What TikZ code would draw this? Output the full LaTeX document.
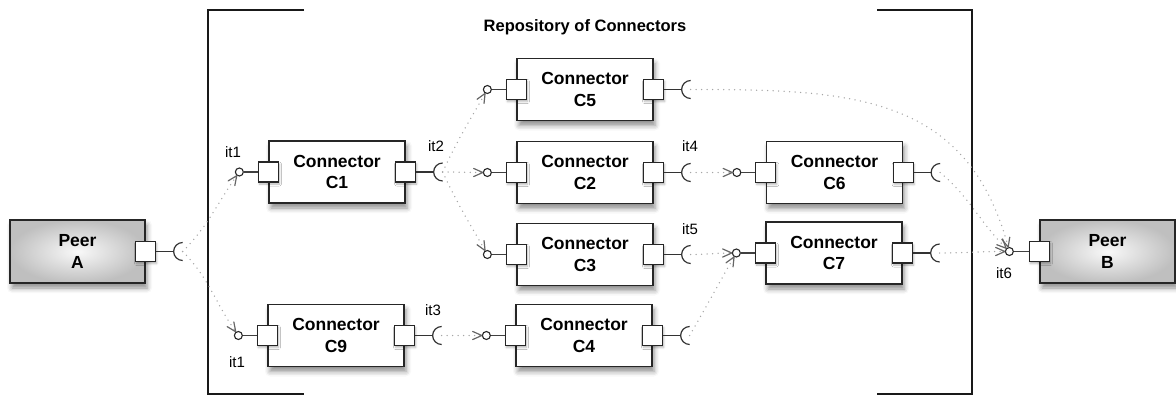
\documentclass[tikz,border=0pt]{standalone}
\usepackage{fontspec}
\setmainfont{Liberation Sans}
\usetikzlibrary{arrows.meta,shadows.blur}
\tikzset{
  cbox/.style={draw=black!85, line width=1.3pt, fill=white, minimum width=136pt, minimum height=62pt,
     align=center, inner sep=0pt, font=\fontsize{17.5}{21.5}\selectfont\bfseries,
     blur shadow={shadow xshift=2pt, shadow yshift=-5pt, shadow blur radius=5pt, shadow opacity=45}},
  peer/.style={cbox, inner color=gray!5, outer color=gray!50, minimum width=135pt, minimum height=63pt},
  port/.style={draw=black!85, line width=1.2pt, fill=white, minimum size=20pt, inner sep=0pt,
     blur shadow={shadow xshift=1pt, shadow yshift=-2pt, shadow blur radius=2pt, shadow opacity=30}},
  lolli/.style={circle, draw=black!85, line width=1.1pt, fill=white, minimum size=8pt, inner sep=0pt},
  wire/.style={draw=black!75, line width=1.2pt},
  sock/.style={draw=black!80, line width=1.2pt},
  dotline/.style={draw=gray!70, line width=1.5pt, dash pattern=on 0pt off 5.5pt, line cap=round},
  tip/.style={draw=black!60, line width=1.2pt, line cap=round, line join=round},
  lbl/.style={font=\fontsize{15}{17}\selectfont, inner sep=0pt},
  bracket/.style={draw=black!90, line width=2pt},
}
% dotted link ending with an open barb drawn solid: #1 path options, #2 start, #3 end node, #4 arrival direction (degrees)
\newcommand\link[4]{%
  \pgfmathtruncatemacro\bk{mod(#4+540,360)}%
  \pgfmathsetmacro\armA{\bk+24}%
  \pgfmathsetmacro\armB{\bk-24}%
  \draw[dotline] (#2) to[#1] (#3);
  \draw[tip] ([shift={(\armA:10pt)}]#3.\bk) -- (#3.\bk) -- ([shift={(\armB:10pt)}]#3.\bk);}
\newcommand\sockat[2]{% port node, socket coordinate
  \draw[sock] (#1.east) -- ([xshift=-9pt]#2);
  \draw[sock] ([yshift=9pt]#2) arc[start angle=90, end angle=270, radius=9pt];}
\newcommand\connbox[4]{% name, x, y, label
  \node[cbox] (#1) at (#2,#3) {Connector\\#4};
  \node[port] (#1l) at (#1.west) {};
  \node[port] (#1r) at (#1.east) {};
  \node[lolli] (#1in) at ([xshift=-29pt]#1.west) {};
  \coordinate (#1out) at ([xshift=37pt]#1.east);
  \draw[wire] (#1in) -- (#1l);
  \sockat{#1r}{#1out}}
\begin{document}
\begin{tikzpicture}[x=1pt,y=1pt]
\useasboundingbox (0,0) rectangle (1176,-396);
% brackets
\draw[bracket] (304,-10) -- (208,-10) -- (208,-394) -- (304,-394);
\draw[bracket] (877,-10) -- (972,-10) -- (972,-394) -- (877,-394);
\node[font=\fontsize{16.5}{18}\selectfont\bfseries] (title) at (585,-27) {Repository of Connectors};
% peers
\node[peer] (A) at (77.5,-251.5) {Peer\\A};
\node[port] (Ar) at (A.east) {};
\coordinate (Aout) at ([xshift=37pt]A.east);
\sockat{Ar}{Aout}
\node[peer] (B) at (1107.5,-251.5) {Peer\\B};
\node[port] (Bl) at (B.west) {};
\node[lolli] (Bin) at ([xshift=-30pt]B.west) {};
\draw[wire] (Bin) -- (Bl);
% connectors
\connbox{C1}{337}{-172}{C1}
\connbox{C9}{336}{-335.5}{C9}
\connbox{C5}{585}{-89.5}{C5}
\connbox{C2}{585}{-172.5}{C2}
\connbox{C3}{585}{-254.5}{C3}
\connbox{C4}{584}{-335.5}{C4}
\connbox{C6}{834.5}{-172.5}{C6}
\connbox{C7}{834}{-253}{C7}
% labels
\node[lbl] (l1) at (233,-152) {it1};
\node[lbl] (l1b) at (237,-362) {it1};
\node[lbl] (l2) at (436,-146) {it2};
\node[lbl] (l3) at (433,-310) {it3};
\node[lbl] (l4) at (690,-146) {it4};
\node[lbl] (l5) at (690,-229) {it5};
\node[lbl] (l6) at (1004,-273) {it6};
% dotted links
\link{out=45,in=-125}{Aout}{C1in}{55}
\link{out=-45,in=125}{Aout}{C9in}{-55}
\link{out=65,in=-120}{C1out}{C5in}{60}
\link{out=0,in=180}{C1out}{C2in}{0}
\link{out=-65,in=120}{C1out}{C3in}{-60}
\link{out=0,in=180}{C9out}{C4in}{0}
\link{out=0,in=180}{C2out}{C6in}{0}
\link{out=0,in=180}{C3out}{C7in}{0}
\link{out=60,in=-120}{C4out}{C7in}{60}
\link{out=0,in=105,looseness=1.15}{C5out}{Bin}{-75}
\link{out=-40,in=135}{C6out}{Bin}{-45}
\link{out=0,in=180}{C7out}{Bin}{0}
\end{tikzpicture}
\end{document}
